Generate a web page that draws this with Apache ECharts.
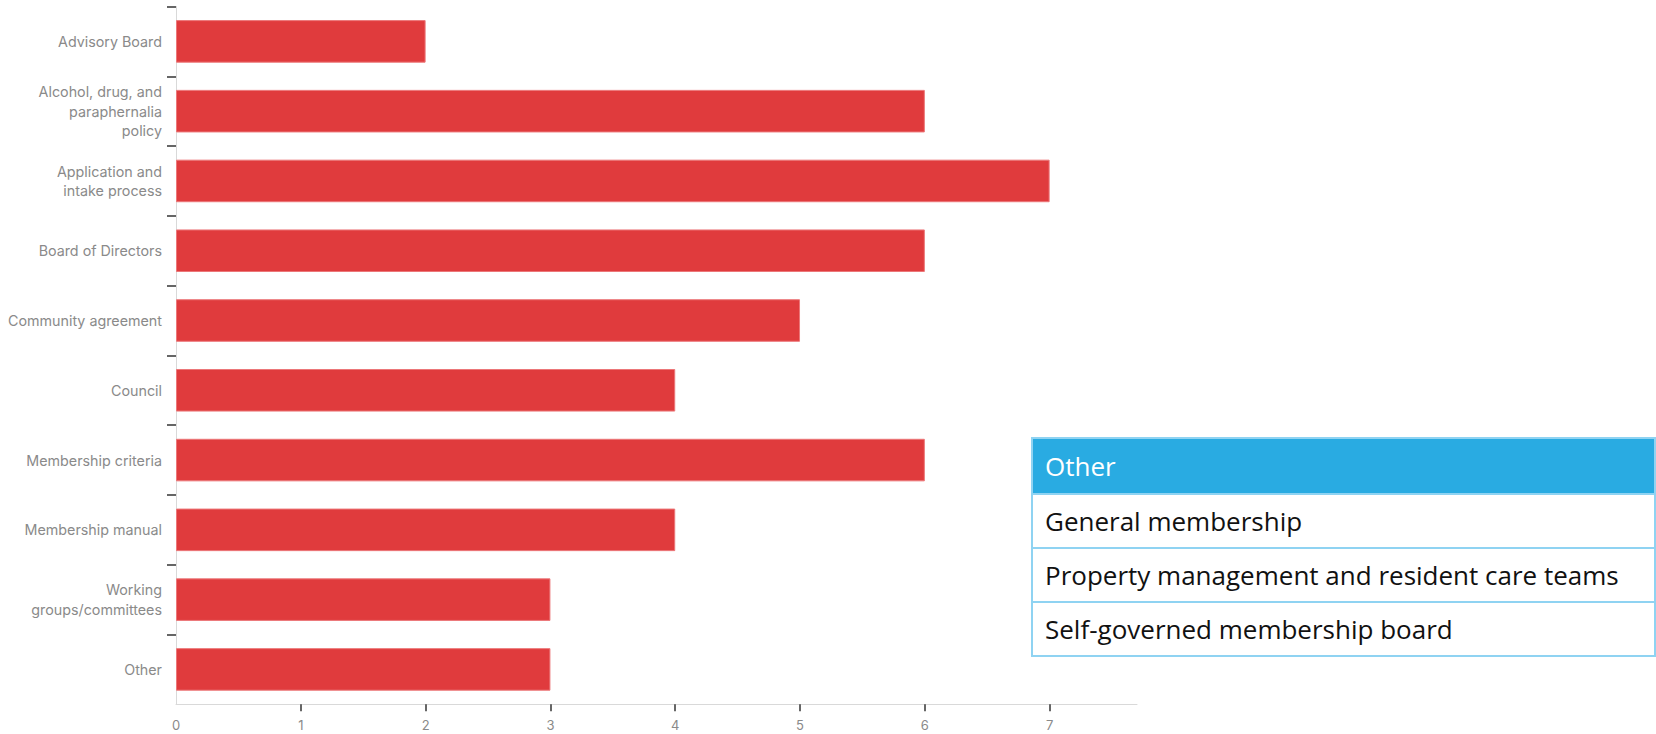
<!DOCTYPE html>
<html>
<head>
<meta charset="utf-8">
<script src="https://cdn.jsdelivr.net/npm/echarts@6/dist/echarts.min.js"></script>
<style>
  html, body { margin: 0; padding: 0; background: #ffffff; }
  #chart { width: 1656px; height: 734px; }
</style>
</head>
<body>
<div id="chart"></div>
<script>
// Governance structures and documents (count of responses)
const categories = [
  'Advisory Board',
  'Alcohol, drug, and paraphernalia policy',
  'Application and intake process',
  'Board of Directors',
  'Community agreement',
  'Council',
  'Membership criteria',
  'Membership manual',
  'Working groups/committees',
  'Other'
];
// Axis label text with the line breaks used on the category axis
const categoryLabels = [
  'Advisory Board',
  'Alcohol, drug, and\nparaphernalia\npolicy',
  'Application and\nintake process',
  'Board of Directors',
  'Community agreement',
  'Council',
  'Membership criteria',
  'Membership manual',
  'Working\ngroups/committees',
  'Other'
];
const counts = [2, 6, 7, 6, 5, 4, 6, 4, 3, 3];
const xTickValues = [0, 1, 2, 3, 4, 5, 6, 7];

// "Other" responses listed beside the chart
const tableTitle = 'Other';
const tableRows = [
  'General membership',
  'Property management and resident care teams',
  'Self-governed membership board'
];

const chart = echarts.init(document.getElementById('chart'), null, { renderer: 'svg' });

// Band boundaries on the category axis (top edge of every band, none at the bottom)
const bandEdges = categories.map((c, i) => i);

const tableLeft = 1032, tableTop = 438, tableWidth = 623;
const headerHeight = 56, rowHeight = 54;
const tableText = { fontFamily: 'Open Sans', fontSize: 26, verticalAlign: 'middle', align: 'left' };
const tableElements = [];
tableElements.push({
  type: 'rect',
  shape: { x: tableLeft, y: tableTop, width: tableWidth, height: headerHeight },
  style: { fill: '#29abe2', stroke: '#8fd3f2', lineWidth: 2 }
});
tableElements.push({
  type: 'text',
  x: tableLeft + 13, y: tableTop + headerHeight / 2,
  style: Object.assign({ text: tableTitle, fill: '#ffffff' }, tableText)
});
tableRows.forEach((row, i) => {
  const y = tableTop + headerHeight + i * rowHeight;
  tableElements.push({
    type: 'rect',
    shape: { x: tableLeft, y: y, width: tableWidth, height: rowHeight },
    style: { fill: '#ffffff', stroke: '#8fd3f2', lineWidth: 2 }
  });
  tableElements.push({
    type: 'text',
    x: tableLeft + 13, y: y + rowHeight / 2,
    style: Object.assign({ text: row, fill: '#111111' }, tableText)
  });
});

chart.setOption({
  animation: false,
  backgroundColor: '#ffffff',
  grid: { left: 176, top: 6.5, right: 519, bottom: 29.7, containLabel: false },
  xAxis: {
    type: 'value',
    min: 0,
    max: 7.7,
    axisLine: { show: true, onZero: false, lineStyle: { color: '#d9d9d9', width: 1 } },
    axisTick: { show: true, customValues: xTickValues.slice(1), length: 7, lineStyle: { color: '#333333', width: 1.5 } },
    axisLabel: {
      customValues: xTickValues,
      color: '#8a8a8a',
      fontFamily: 'Inter',
      fontSize: 13,
      margin: 14
    },
    splitLine: { show: false }
  },
  yAxis: [{
    type: 'category',
    inverse: true,
    data: categories,
    axisLine: { show: true, onZero: false, lineStyle: { color: '#d9d9d9', width: 1 } },
    axisTick: { show: false },
    axisLabel: {
      color: '#8a8a8a',
      fontFamily: 'Inter',
      fontSize: 14.3,
      lineHeight: 19.5,
      margin: 14,
      align: 'right',
      formatter: (value, idx) => categoryLabels[idx]
    },
    splitLine: { show: false }
  }, {
    // tick marks between the bands
    type: 'value',
    position: 'left',
    inverse: true,
    min: 0,
    max: categories.length,
    axisLine: { show: false, onZero: false },
    axisTick: { show: true, customValues: bandEdges, length: 9, lineStyle: { color: '#333333', width: 1.5 } },
    axisLabel: { show: false },
    splitLine: { show: false }
  }],
  series: [{
    type: 'bar',
    yAxisIndex: 0,
    data: counts,
    barWidth: '61%',
    itemStyle: { color: '#e03b3d', borderColor: '#ec7779', borderWidth: 1 },
    label: { show: false }
  }],
  graphic: { elements: tableElements }
});
</script>
</body>
</html>
